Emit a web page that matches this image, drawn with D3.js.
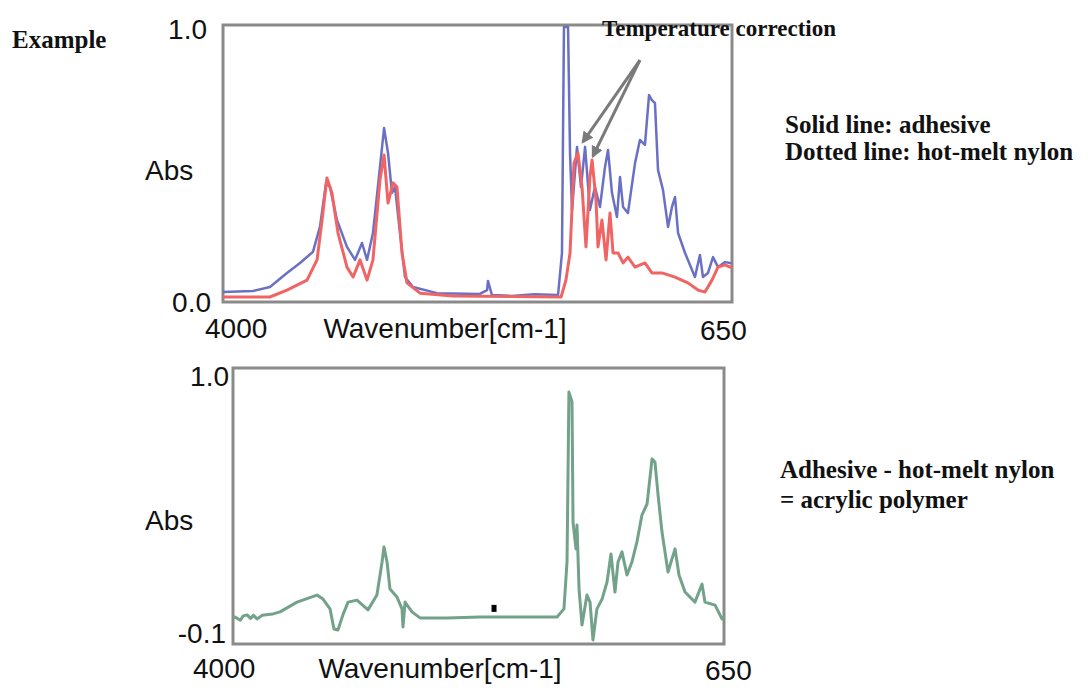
<!DOCTYPE html>
<html>
<head>
<meta charset="utf-8">
<script src="https://cdn.jsdelivr.net/npm/d3@7/dist/d3.min.js"></script>
<style>
  html, body { margin: 0; padding: 0; background: #ffffff; }
  svg { display: block; }
  .serif { font-family: "Liberation Serif", "Times New Roman", serif; font-weight: bold; fill: #111; }
  .sans { font-family: "Liberation Sans", Arial, sans-serif; fill: #111; }
</style>
</head>
<body>
<svg id="chart" width="1089" height="694"></svg>
<script>
// Wavenumber axis (cm-1), shared by both spectra panels
const xRange = [4000, 650];
const xTickLabels = ["4000", "650"];
const xTitle = "Wavenumber[cm-1]";

// Upper panel: absorbance 0.0 .. 1.0
const topYRange = [0.0, 1.0];
const topYTickLabels = ["1.0", "0.0"];

// Lower panel: absorbance -0.1 .. 1.0
const bottomYRange = [-0.1, 1.0];
const bottomYTickLabels = ["1.0", "-0.1"];

// Adhesive spectrum (solid line)
const wnAdhesive = [4000, 3803, 3691, 3579, 3493, 3408, 3362, 3322, 3296, 3250, 3184, 3131, 3085, 3052, 3013,
  2967, 2940, 2914, 2888, 2868, 2835, 2802, 2750, 2592, 2309, 2262, 2256, 2230, 2100, 1950, 1795, 1769, 1756,
  1729, 1716, 1703, 1670, 1644, 1617, 1585, 1552, 1519, 1486, 1466, 1440, 1407, 1387, 1367, 1335, 1288, 1256,
  1223, 1196, 1177, 1157, 1137, 1104, 1071, 1045, 1025, 1005, 959, 894, 861, 841, 808, 775, 742, 696, 663, 650];
const absAdhesive = [0.036, 0.040, 0.054, 0.105, 0.141, 0.181, 0.271, 0.430, 0.415, 0.296, 0.199, 0.152, 0.213, 0.152, 0.249,
  0.487, 0.628, 0.538, 0.394, 0.415, 0.249, 0.090, 0.054, 0.032, 0.029, 0.043, 0.076, 0.025, 0.022, 0.028, 0.025, 0.177, 0.993,
  0.993, 0.538, 0.332, 0.560, 0.415, 0.560, 0.332, 0.415, 0.343, 0.487, 0.549, 0.394, 0.307, 0.451, 0.343, 0.321, 0.502, 0.585,
  0.567, 0.747, 0.729, 0.718, 0.477, 0.404, 0.271, 0.343, 0.379, 0.249, 0.177, 0.090, 0.170, 0.090, 0.105, 0.162, 0.126, 0.144, 0.141, 0.140];

// Hot-melt nylon spectrum (dotted line)
const wnNylon = [4000, 3691, 3579, 3447, 3381, 3348, 3316, 3283, 3243, 3184, 3144, 3098, 3052, 3013, 2967, 2940,
  2914, 2881, 2855, 2822, 2789, 2703, 2486, 2100, 1775, 1743, 1716, 1690, 1664, 1637, 1611, 1585, 1571, 1545,
  1532, 1506, 1479, 1453, 1433, 1400, 1367, 1335, 1288, 1223, 1177, 1111, 1025, 940, 874, 828, 782, 742, 696, 663, 650];
const absNylon = [0.018, 0.018, 0.043, 0.079, 0.152, 0.296, 0.448, 0.394, 0.249, 0.126, 0.090, 0.152, 0.079, 0.152, 0.440, 0.531,
  0.357, 0.430, 0.415, 0.177, 0.069, 0.032, 0.022, 0.020, 0.018, 0.079, 0.177, 0.502, 0.538, 0.415, 0.199, 0.451, 0.513, 0.368,
  0.199, 0.296, 0.152, 0.321, 0.177, 0.177, 0.141, 0.162, 0.126, 0.141, 0.105, 0.105, 0.090, 0.069, 0.043, 0.036, 0.079, 0.126, 0.134, 0.126, 0.126];

// Difference spectrum: adhesive - hot-melt nylon
const wnDiff = [4000, 3986, 3950, 3930, 3904, 3880, 3860, 3836, 3800, 3760, 3727, 3679, 3563, 3427, 3386, 3338,
  3311, 3284, 3250, 3215, 3154, 3079, 3018, 2983, 2970, 2949, 2929, 2881, 2847, 2840, 2826, 2779, 2724, 2540,
  2315, 2226, 1789, 1742, 1721, 1708, 1687, 1680, 1660, 1653, 1639, 1619, 1585, 1564, 1544, 1517, 1482, 1448,
  1421, 1394, 1373, 1346, 1312, 1278, 1244, 1210, 1175, 1141, 1121, 1100, 1073, 1032, 984, 957, 916, 848, 800,
  780, 711, 664, 650];
const absDiff = [0.005, 0.008, -0.005, 0.012, 0.016, 0.002, 0.014, 0.000, 0.015, 0.018, 0.020, 0.028, 0.067, 0.095, 0.079, 0.040,
  -0.040, -0.044, 0.016, 0.067, 0.075, 0.036, 0.095, 0.227, 0.287, 0.227, 0.119, 0.087, 0.040, -0.032, 0.067, 0.028, 0.004, 0.004,
  0.008, 0.008, 0.008, 0.040, 0.227, 0.904, 0.865, 0.386, 0.279, 0.374, 0.119, -0.024, 0.095, 0.067, -0.084, 0.040, 0.079, 0.147,
  0.259, 0.107, 0.227, 0.267, 0.175, 0.227, 0.307, 0.414, 0.458, 0.637, 0.625, 0.494, 0.346, 0.187, 0.279, 0.175, 0.107, 0.067, 0.139,
  0.067, 0.055, 0.000, 0.008];

// Small marker on the difference baseline
const markerWn = [2219];
const markerAbs = [0.04];

// Arrows for the temperature-corrected nylon bands
const arrowFromWn = [1256, 1256];
const arrowFromAbs = [0.873, 0.873];
const arrowToWn = [1631, 1565];
const arrowToAbs = [0.578, 0.527];

const svg = d3.select("#chart");
const frameColor = "#8a8a8a";

function zip(xs, ys) { return xs.map((x, i) => ({ x, y: ys[i] })); }

function panel(box, yDomain, yLabels, labelOffsets) {
  const x = d3.scaleLinear().domain(xRange).range([box.left, box.right]);
  const y = d3.scaleLinear().domain(yDomain).range([box.bottom, box.top]);
  const g = svg.append("g");
  // frame
  g.append("rect")
    .attr("x", box.left).attr("y", box.top)
    .attr("width", box.right - box.left).attr("height", box.bottom - box.top)
    .attr("fill", "none").attr("stroke", frameColor).attr("stroke-width", 3);
  // y end labels (top value then bottom value)
  g.append("text").attr("class", "sans").attr("font-size", 28)
    .attr("text-anchor", "end")
    .attr("x", box.left + labelOffsets.yTopDx).attr("y", y(yDomain[1]) + labelOffsets.yTopDy)
    .text(yLabels[0]);
  g.append("text").attr("class", "sans").attr("font-size", 28)
    .attr("text-anchor", "end")
    .attr("x", box.left + labelOffsets.yBotDx).attr("y", y(yDomain[0]) + labelOffsets.yBotDy)
    .text(yLabels[1]);
  g.append("text").attr("class", "sans").attr("font-size", 28)
    .attr("x", 145).attr("y", labelOffsets.absY).text("Abs");
  // x end labels and title
  g.append("text").attr("class", "sans").attr("font-size", 28)
    .attr("x", x(xRange[0]) + labelOffsets.x0Dx).attr("y", box.bottom + labelOffsets.xDy)
    .text(xTickLabels[0]);
  g.append("text").attr("class", "sans").attr("font-size", 28)
    .attr("x", x(xRange[1]) + labelOffsets.x1Dx).attr("y", box.bottom + labelOffsets.xDy + 2)
    .text(xTickLabels[1]);
  g.append("text").attr("class", "sans").attr("font-size", 28)
    .attr("text-anchor", "middle")
    .attr("x", labelOffsets.titleX).attr("y", box.bottom + labelOffsets.xDy)
    .text(xTitle);
  return { x, y, g };
}

// Upper panel: adhesive and hot-melt nylon
const upper = panel({ left: 223, right: 732, top: 25, bottom: 302 }, topYRange, topYTickLabels,
  { yTopDx: -16, yTopDy: 14, yBotDx: -12, yBotDy: 10, absY: 180, x0Dx: -18, x1Dx: -32, xDy: 36, titleX: 445 });

const lineUpper = d3.line().x(d => upper.x(d.x)).y(d => upper.y(d.y));
upper.g.append("path").datum(zip(wnAdhesive, absAdhesive))
  .attr("d", lineUpper).attr("fill", "none")
  .attr("stroke", "#6a70c4").attr("stroke-width", 2.5).attr("stroke-linejoin", "round");
upper.g.append("path").datum(zip(wnNylon, absNylon))
  .attr("d", lineUpper).attr("fill", "none")
  .attr("stroke", "#f06464").attr("stroke-width", 3).attr("stroke-linejoin", "round");

// Annotation arrows
const defs = svg.append("defs");
defs.append("marker").attr("id", "head").attr("viewBox", "0 0 10 10")
  .attr("refX", 8).attr("refY", 5).attr("markerWidth", 4).attr("markerHeight", 4)
  .attr("orient", "auto")
  .append("path").attr("d", "M0,0 L10,5 L0,10 Z").attr("fill", "#7a7a7a");
arrowToWn.forEach((wn, i) => {
  upper.g.append("line")
    .attr("x1", upper.x(arrowFromWn[i])).attr("y1", upper.y(arrowFromAbs[i]))
    .attr("x2", upper.x(wn)).attr("y2", upper.y(arrowToAbs[i]))
    .attr("stroke", "#7a7a7a").attr("stroke-width", 3)
    .attr("marker-end", "url(#head)");
});

// Lower panel: difference spectrum
const lower = panel({ left: 233, right: 724, top: 368, bottom: 644 }, bottomYRange, bottomYTickLabels,
  { yTopDx: -4, yTopDy: 18, yBotDx: -7, yBotDy: -1, absY: 530, x0Dx: -40, x1Dx: -19, xDy: 34, titleX: 440 });

const lineLower = d3.line().x(d => lower.x(d.x)).y(d => lower.y(d.y));
lower.g.append("path").datum(zip(wnDiff, absDiff))
  .attr("d", lineLower).attr("fill", "none")
  .attr("stroke", "#72a289").attr("stroke-width", 3).attr("stroke-linejoin", "round");
lower.g.selectAll("rect.mark").data(zip(markerWn, markerAbs)).enter().append("rect")
  .attr("class", "mark")
  .attr("x", d => lower.x(d.x) - 2.5).attr("y", d => lower.y(d.y) - 4)
  .attr("width", 5).attr("height", 7).attr("fill", "#000");

// Captions
svg.append("text").attr("class", "serif").attr("font-size", 25).attr("x", 12).attr("y", 48).text("Example");
svg.append("text").attr("class", "serif").attr("font-size", 23).attr("x", 602).attr("y", 36).text("Temperature correction");
svg.append("text").attr("class", "serif").attr("font-size", 25).attr("x", 785).attr("y", 133).text("Solid line: adhesive");
svg.append("text").attr("class", "serif").attr("font-size", 25).attr("x", 785).attr("y", 160).text("Dotted line: hot-melt nylon");
svg.append("text").attr("class", "serif").attr("font-size", 25).attr("x", 780).attr("y", 478).text("Adhesive - hot-melt nylon");
svg.append("text").attr("class", "serif").attr("font-size", 25).attr("x", 780).attr("y", 508).text("= acrylic polymer");
</script>
</body>
</html>
